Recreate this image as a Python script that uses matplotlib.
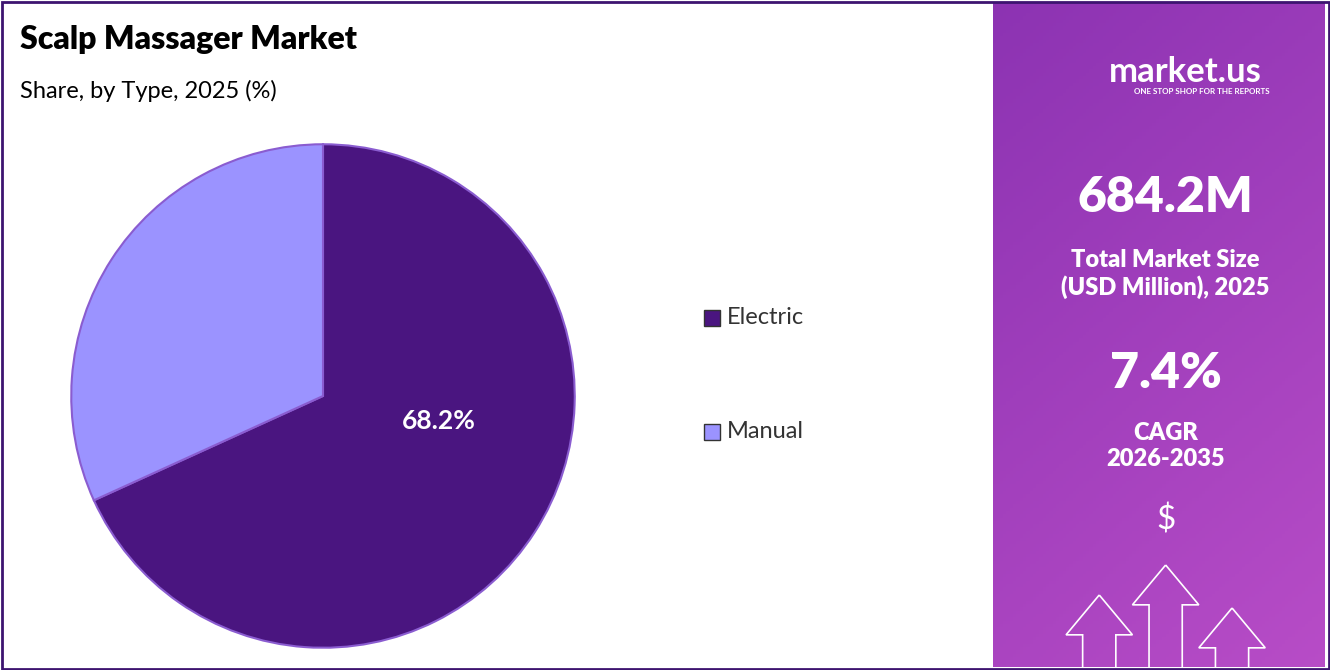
import numpy as np
import matplotlib.pyplot as plt
from matplotlib.patches import Rectangle, FancyArrow

labels = ["Electric", "Manual"]
shares = [68.2, 31.8]
colors = ["#4a1580", "#9b93ff"]
market_size = "684.2M"
cagr = "7.4%"

plt.rcParams["font.family"] = ["Lato", "DejaVu Sans"]

W, H = 1330, 670
fig = plt.figure(figsize=(W / 100, H / 100), dpi=100)

# pie
ax = fig.add_axes([(323 - 253) / W, 1 - (396 + 253) / H, 506 / W, 506 / H])
wedges, _ = ax.pie(shares, colors=colors, startangle=90, counterclock=False,
                   wedgeprops=dict(edgecolor="#8a5cd0", linewidth=1.5))
ax.set_xlim(-1.005, 1.005)
ax.set_ylim(-1.005, 1.005)
ax.set_aspect("equal")
ax.text(0.46, -0.1, f"{shares[0]}%", color="white", fontsize=19,
        fontweight="bold", ha="center", va="center")

fig.text(20 / W, 1 - 40 / H, "Scalp Massager Market", fontsize=23,
         fontweight="heavy", va="center")
fig.text(20 / W, 1 - 91 / H, "Share, by Type, 2025 (%)", fontsize=17,
         va="center")

# legend
for i, (lab, c) in enumerate(zip(labels, colors)):
    y = 1 - (318 + 114 * i) / H
    fig.patches.append(Rectangle((704 / W, y - 8 / H), 16 / W, 16 / H,
                                 transform=fig.transFigure, facecolor=c,
                                 edgecolor="#333333", linewidth=1))
    fig.text(727 / W, y, lab, fontsize=17, va="center", color="#333333")

# right panel with gradient
pax = fig.add_axes([993 / W, 3 / H, 332 / W, 664 / H])
yy, xx = np.mgrid[0:1:200j, 0:1:100j]
top = np.array([0.55, 0.20, 0.70])
bot = np.array([0.72, 0.30, 0.78])
mix = (yy * 0.7 + xx * 0.3)[..., None]
img = top * (1 - mix) + bot * mix
pax.imshow(img, extent=[0, 1, 0, 1], aspect="auto", origin="upper")
pax.set_xlim(0, 1)
pax.set_ylim(0, 1)
pax.axis("off")

def py(y):
    return 1 - (y - 3) / 664

pax.text(0.58, py(72), "market.us", color="white", fontsize=25,
         fontweight="bold", ha="center", va="center")
pax.text(0.63, py(92), "ONE STOP SHOP FOR THE REPORTS", color="white",
         fontsize=5.8, fontweight="bold", ha="center", va="center")
pax.text(0.52, py(197), market_size, color="white", fontsize=36,
         fontweight="heavy", ha="center", va="center")
pax.text(0.52, py(274), "Total Market Size\n(USD Million), 2025",
         color="white", fontsize=17, fontweight="heavy", ha="center",
         va="center", linespacing=1.2)
pax.text(0.52, py(374), cagr, color="white", fontsize=36,
         fontweight="heavy", ha="center", va="center")
pax.text(0.52, py(446), "CAGR\n2026-2035", color="white", fontsize=17,
         fontweight="heavy", ha="center", va="center", linespacing=1.2)
pax.text(0.52, py(520), "$", color="white", fontsize=24, ha="center",
         va="center")
for x, ytop, h in [(0.32, 595, 80), (0.52, 565, 110), (0.72, 608, 70)]:
    pax.add_patch(FancyArrow(x, py(ytop + h), 0, h / 664 - 0.06, width=0.1,
                             head_width=0.2, head_length=0.06,
                             fill=False, edgecolor="white", linewidth=1.2))

# border
fig.patches.append(Rectangle((1.5 / W, 1.5 / H), 1 - 3 / W, 1 - 3 / H,
                             transform=fig.transFigure, fill=False,
                             edgecolor="#3d1470", linewidth=2))

fig.savefig("out.png", dpi=100)
